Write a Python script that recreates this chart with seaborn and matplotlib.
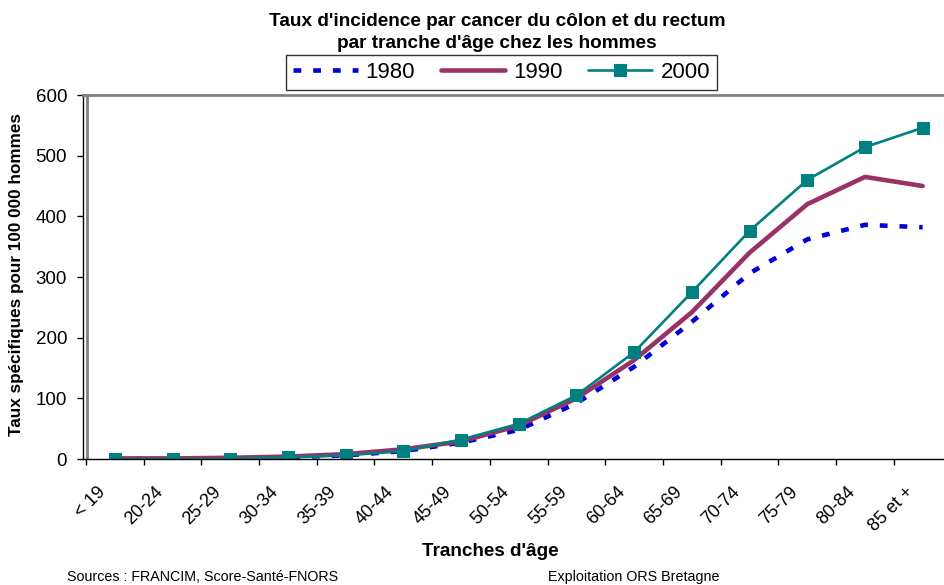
import matplotlib
matplotlib.use("Agg")
import matplotlib.pyplot as plt
import matplotlib.transforms as mtransforms
import seaborn as sns
import numpy as np

ages = ["< 19", "20-24", "25-29", "30-34", "35-39", "40-44", "45-49", "50-54",
        "55-59", "60-64", "65-69", "70-74", "75-79", "80-84", "85 et +"]
v1980 = [0, 0, 1, 3, 6, 13, 27, 48, 92, 152, 226, 306, 362, 386, 382]
v1990 = [1, 1, 2, 4, 8, 16, 29, 55, 100, 163, 242, 340, 420, 465, 450]
v2000 = [0, 0, 0, 3, 6, 13, 32, 58, 105, 176, 275, 376, 460, 514, 546]
yticks = [0, 100, 200, 300, 400, 500, 600]

sns.set_style("white")
plt.rcParams['font.family'] = ['Liberation Sans', 'DejaVu Sans']
plt.rcParams.update({"text.color": "black", "axes.labelcolor": "black",
                     "xtick.color": "black", "ytick.color": "black"})

W, H = 944, 585
fig = plt.figure(figsize=(W / 100, H / 100), dpi=100)
left_px, right_px, top_px, bot_px = 83, 951.5, 95, 459
ax = fig.add_axes([left_px / W, 1 - bot_px / H, (right_px - left_px) / W, (bot_px - top_px) / H])

x = np.arange(len(ages))
sns.lineplot(x=x, y=v1980, ax=ax, color="#0000D8", lw=3.3,
             linestyle=(0, (1.7, 2.6)), solid_capstyle="butt", label="1980")
sns.lineplot(x=x, y=v1990, ax=ax, color="#993366", lw=3.3, label="1990")
sns.lineplot(x=x, y=v2000, ax=ax, color="#008080", lw=1.9, marker="s",
             markersize=8, markeredgecolor="#008080", label="2000")

ax.set_xlim(-0.5 - 3 / 57.8, 14.5)
ax.set_ylim(0, 600)
ax.set_yticks(yticks)
ax.set_yticklabels([str(v) for v in yticks], fontsize=13.5)
ax.tick_params(axis="y", direction="out", length=4, width=1, color="black", pad=7.5, left=True)

ax.set_xticks(x)
ax.set_xticks(np.arange(-0.5, 15, 1), minor=True)
ax.tick_params(axis="x", which="major", length=0, pad=22)
ax.tick_params(axis="x", which="minor", direction="out", length=4, width=1, color="black", bottom=True)
ax.set_xticklabels(ages, fontsize=13, rotation=45, ha="right", va="center",
                   rotation_mode="anchor")
off = mtransforms.ScaledTranslation(-12 / 100, 0, fig.dpi_scale_trans)
for lab in ax.get_xticklabels():
    lab.set_transform(lab.get_transform() + off)

for s in ["left", "bottom"]:
    ax.spines[s].set_color("black")
    ax.spines[s].set_linewidth(1)
for s in ["top", "right"]:
    ax.spines[s].set_color("#808080")
    ax.spines[s].set_linewidth(2)
ax.axvline(-0.5 + 0.02, color="#808080", lw=2, zorder=1)
ax.set_xlabel("")
ax.set_ylabel("")
ax.grid(False)
ax.get_legend().remove()

handles, labs = ax.get_legend_handles_labels()
leg = fig.legend(handles, labs, loc="center", bbox_to_anchor=(501.5 / W, 1 - 72.5 / H),
                 ncol=3, fontsize=16, frameon=True, fancybox=False, edgecolor="black",
                 handlelength=2.9, handletextpad=0.36, columnspacing=1.15,
                 borderpad=0.3, borderaxespad=0)
leg.get_frame().set_linewidth(1)

fig.text(497 / W, 1 - 22 / H, "Taux d'incidence par cancer du côlon et du rectum",
         ha="center", va="center", fontsize=13.7, fontweight="bold")
fig.text(497 / W, 1 - 43 / H, "par tranche d'âge chez les hommes",
         ha="center", va="center", fontsize=13.7, fontweight="bold")
fig.text(17 / W, 1 - 274 / H, "Taux spécifiques pour 100 000 hommes", rotation=90,
         ha="center", va="center", fontsize=12.3, fontweight="bold")
fig.text(490 / W, 1 - 552 / H, "Tranches d'âge", ha="center", va="center",
         fontsize=13.6, fontweight="bold")
fig.text(67 / W, 1 - 577 / H, "Sources : FRANCIM, Score-Santé-FNORS", ha="left",
         va="center", fontsize=10.3)
fig.text(548 / W, 1 - 577 / H, "Exploitation ORS Bretagne", ha="left", va="center",
         fontsize=10.3)

fig.savefig("out.png", dpi=100)
